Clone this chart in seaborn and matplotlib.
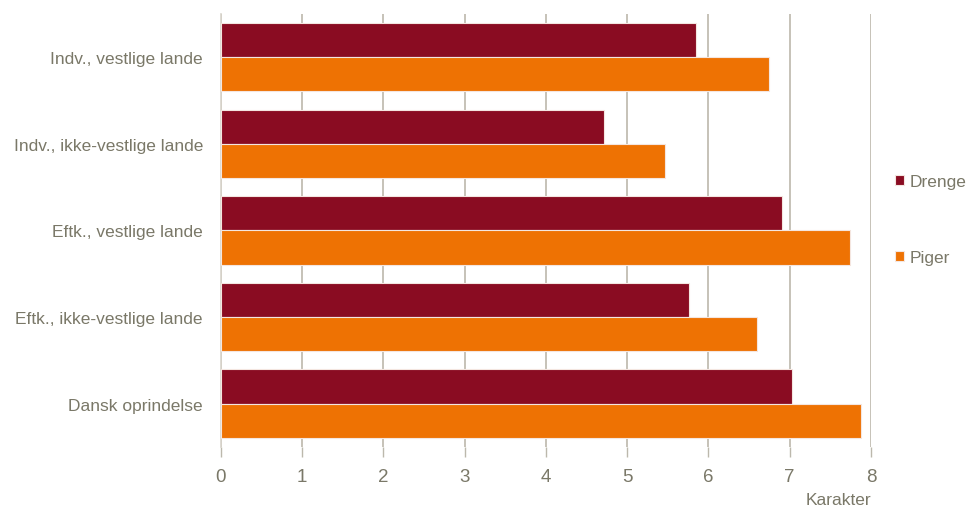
import matplotlib

matplotlib.use("Agg")
import matplotlib.pyplot as plt
import pandas as pd
import seaborn as sns

categories = [
    "Indv., vestlige lande",
    "Indv., ikke-vestlige lande",
    "Eftk., vestlige lande",
    "Eftk., ikke-vestlige lande",
    "Dansk oprindelse",
]
drenge = [5.85, 4.72, 6.91, 5.76, 7.03]
piger = [6.75, 5.46, 7.74, 6.60, 7.88]
x_ticks = [0, 1, 2, 3, 4, 5, 6, 7, 8]

TEXT = "#7a7868"
GRID = "#bcb8ac"
COLORS = {"Drenge": "#8a0c22", "Piger": "#ee7203"}

df = pd.DataFrame(
    {
        "Gruppe": categories * 2,
        "Karakter": drenge + piger,
        "Køn": ["Drenge"] * len(categories) + ["Piger"] * len(categories),
    }
)

sns.set_theme(style="white")
plt.rcParams["font.family"] = ["Liberation Sans", "DejaVu Sans"]

fig = plt.figure(figsize=(9.71, 5.10), dpi=100)
ax = fig.add_axes([0.2276, 0.1216, 0.6694, 0.849])

sns.barplot(
    data=df,
    y="Gruppe",
    x="Karakter",
    hue="Køn",
    order=categories,
    hue_order=["Drenge", "Piger"],
    palette=COLORS,
    saturation=1,
    orient="h",
    width=0.79,
    edgecolor="#f4e6e0",
    linewidth=0.8,
    ax=ax,
    zorder=3,
)

ax.set_xlim(0, 8)
ax.set_xticks(x_ticks)
ax.set_ylim(len(categories) - 0.5, -0.5)
ax.grid(axis="x", color=GRID, linewidth=1.2, zorder=0)
ax.set_axisbelow(True)
for side in ["top", "right", "bottom"]:
    ax.spines[side].set_visible(False)
ax.spines["left"].set_color("#d8d4cc")
ax.spines["left"].set_linewidth(1.2)

ax.tick_params(axis="x", colors=GRID, length=7, width=1, pad=8, labelsize=13.5,
               labelcolor=TEXT, direction="out")
ax.tick_params(axis="y", length=0, pad=13, labelsize=12.5, labelcolor=TEXT)
ax.xaxis.set_ticks_position("bottom")
ax.set_ylabel("")
ax.set_xlabel("Karakter", color=TEXT, fontsize=12.5, loc="right", labelpad=5)

handles, labels = ax.get_legend_handles_labels()
ax.legend(
    handles,
    labels,
    loc="center left",
    bbox_to_anchor=(1.026, 0.525),
    borderaxespad=0,
    frameon=False,
    fontsize=12.5,
    labelcolor=TEXT,
    handlelength=0.5,
    handleheight=0.5,
    handletextpad=0.35,
    labelspacing=3.5,
)

fig.savefig("out.png", dpi=100)
